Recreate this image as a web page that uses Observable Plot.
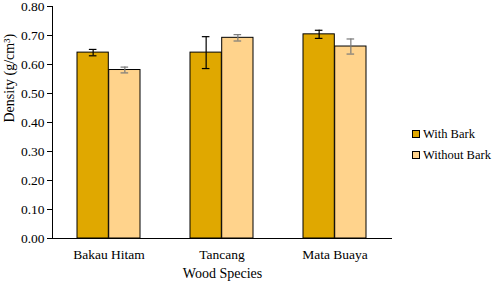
<!DOCTYPE html>
<html>
<head>
<meta charset="utf-8">
<script src="https://cdn.jsdelivr.net/npm/d3@7"></script>
<script src="https://cdn.jsdelivr.net/npm/@observablehq/plot@0.6"></script>
<style>
  html body #wrap, html body #wrap *, html body #wrap svg text { font-family: "Liberation Serif", serif !important; }
</style>
</head>
<body style="margin:0;background:#fff">
<div id="wrap" style="position:relative;width:498px;height:283px;font-family:'Liberation Serif'"></div>
<script>
const species = ["Bakau Hitam", "Tancang", "Mata Buaya"];
const series = ["With Bark", "Without Bark"];
const withBark = [0.641, 0.641, 0.704];
const withBarkErr = [0.011, 0.055, 0.014];
const withoutBark = [0.581, 0.692, 0.662];
const withoutBarkErr = [0.010, 0.011, 0.026];
const yTicks = [0, 0.1, 0.2, 0.3, 0.4, 0.5, 0.6, 0.7, 0.8];
const colors = ["#E0A800", "#FFD38C"];
const errColors = ["#000000", "#7a7a7a"];

const dW = species.map((s, i) => ({species: s, v: withBark[i], e: withBarkErr[i]}));
const dO = species.map((s, i) => ({species: s, v: withoutBark[i], e: withoutBarkErr[i]}));

const half = 31.7;
const capInset = half / 2 - 4;
const serif = "'Liberation Serif', serif";

const chart = Plot.plot({
  width: 498,
  height: 283,
  marginLeft: 52,
  marginRight: 106,
  marginTop: 6,
  marginBottom: 45,
  style: {fontSize: "13.5px", background: "#fff", color: "#000"},
  x: {domain: species, paddingInner: 0.44, paddingOuter: 0.22, label: null, tickSize: 0, tickPadding: 11},
  y: {domain: [0, 0.8], ticks: yTicks, tickFormat: d3.format(".2f"), label: null, tickSize: 5, tickPadding: 3, line: true},
  marks: [
    Plot.barY(dW, {x: "species", y: "v", fill: colors[0], stroke: "#000", strokeWidth: 1, insetRight: half}),
    Plot.barY(dO, {x: "species", y: "v", fill: colors[1], stroke: "#000", strokeWidth: 1, insetLeft: half}),
    Plot.ruleX(dW, {x: "species", y1: d => d.v - d.e, y2: d => d.v + d.e, stroke: errColors[0], strokeWidth: 1.2, dx: -half / 2}),
    Plot.tickY(dW, {x: "species", y: d => d.v - d.e, stroke: errColors[0], strokeWidth: 1.2, insetLeft: capInset, insetRight: half + capInset}),
    Plot.tickY(dW, {x: "species", y: d => d.v + d.e, stroke: errColors[0], strokeWidth: 1.2, insetLeft: capInset, insetRight: half + capInset}),
    Plot.ruleX(dO, {x: "species", y1: d => d.v - d.e, y2: d => d.v + d.e, stroke: errColors[1], strokeWidth: 1.2, dx: half / 2}),
    Plot.tickY(dO, {x: "species", y: d => d.v - d.e, stroke: errColors[1], strokeWidth: 1.2, insetLeft: half + capInset, insetRight: capInset}),
    Plot.tickY(dO, {x: "species", y: d => d.v + d.e, stroke: errColors[1], strokeWidth: 1.2, insetLeft: half + capInset, insetRight: capInset}),
    Plot.ruleY([0], {stroke: "#000", strokeWidth: 1}),
    Plot.text(["Wood Species"], {frameAnchor: "bottom", dy: 39, fontSize: 14}),
    Plot.text(["Density (g/cm³)"], {frameAnchor: "left", dx: -43, rotate: -90, fontSize: 14})
  ]
});

const wrap = document.getElementById("wrap");
wrap.appendChild(chart);
const legY = [134, 155];
series.forEach((s, i) => {
  const el = document.createElement("div");
  el.setAttribute("style", `position:absolute;left:412px;top:${legY[i] - 9}px;height:18px;display:flex;align-items:center;white-space:nowrap;font-size:12.5px`);
  el.innerHTML = `<div style="width:6px;height:6px;border:1px solid #000;margin-right:3px;background:${colors[i]}"></div><span>${s}</span>`;
  wrap.appendChild(el);
});
wrap.querySelectorAll("*").forEach(n => n.style.setProperty("font-family", serif, "important"));
chart.querySelectorAll("g, text").forEach(n => n.setAttribute("font-family", "Liberation Serif"));
</script>
</body>
</html>
